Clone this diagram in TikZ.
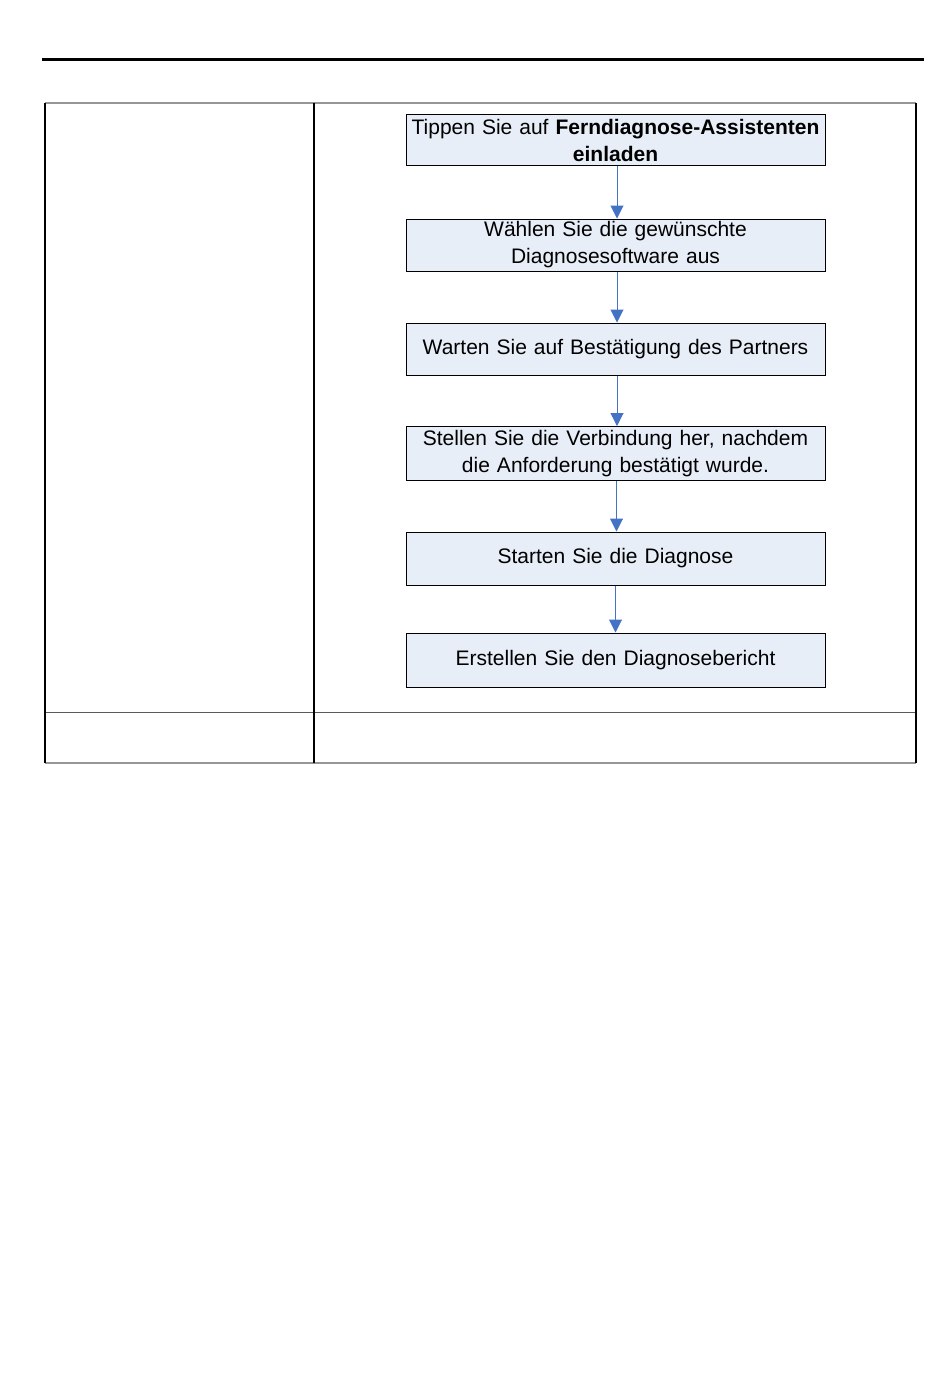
\documentclass[tikz,border=0pt]{standalone}
\usepackage{fontspec}
\setmainfont{Liberation Sans}
\usetikzlibrary{arrows.meta,positioning}
\definecolor{boxfill}{RGB}{232,238,248}
\definecolor{flowblue}{RGB}{68,114,196}
\definecolor{rulegray}{RGB}{150,150,150}
\definecolor{rowgray}{RGB}{90,90,90}

\begin{document}
\begin{tikzpicture}[x=0.5pt,y=-0.5pt,
        stepbox/.style={draw=black, line width=0.5pt, fill=boxfill, minimum width=209.5pt,
          text width=209pt, align=center, inner sep=0pt, font=\fontsize{10.5}{13.5}\selectfont},
        flow/.style={-{Triangle[length=6.5pt,width=6.5pt]}, draw=flowblue, fill=flowblue, line width=0.5pt}
      ]
      \useasboundingbox (0,0) rectangle (950,1394);
      % header rule
      \draw[line width=1.5pt] (42,59) -- (924,59);
      % table frame
      \draw[rulegray, line width=0.6pt] (45,103) -- (916,103);
      \draw[rulegray, line width=0.6pt] (45,763) -- (916,763);
      \draw[rowgray, line width=0.5pt] (45,712) -- (916,712);
      \draw[line width=1pt] (45,103) -- (45,763);
      \draw[line width=1pt] (314,103) -- (314,763);
      \draw[line width=1pt] (916,103) -- (916,763);
      % steps
      \node[stepbox, minimum height=25.5pt] (invite) at (615.5,140)
        {Tippen Sie auf \textbf{Ferndiagnose-Assistenten}\\\textbf{einladen}};
      \node[stepbox, minimum height=26pt] (software) at (615.5,245)
        {Wählen Sie die gewünschte\\Diagnosesoftware aus};
      \node[stepbox, minimum height=26pt] (partner) at (615.5,349)
        {Warten Sie auf Bestätigung des Partners};
      \node[stepbox, minimum height=27pt] (connect) at (615.5,453.5)
        {Stellen Sie die Verbindung her, nachdem\\die Anforderung bestätigt wurde.};
      \node[stepbox, minimum height=26.5pt] (start) at (615.5,558.5)
        {Starten Sie die Diagnose};
      \node[stepbox, minimum height=27pt] (report) at (615.5,660)
        {Erstellen Sie den Diagnosebericht};
      \draw[flow] ([xshift=0.75pt]invite.south) -- ([xshift=0.75pt]software.north);
      \draw[flow] ([xshift=0.75pt]software.south) -- ([xshift=0.75pt]partner.north);
      \draw[flow] ([xshift=0.75pt]partner.south) -- ([xshift=0.75pt]connect.north);
      \draw[flow] ([xshift=0.5pt]connect.south) -- ([xshift=0.5pt]start.north);
      \draw[flow] (start) -- (report);
    \end{tikzpicture}
\end{document}
